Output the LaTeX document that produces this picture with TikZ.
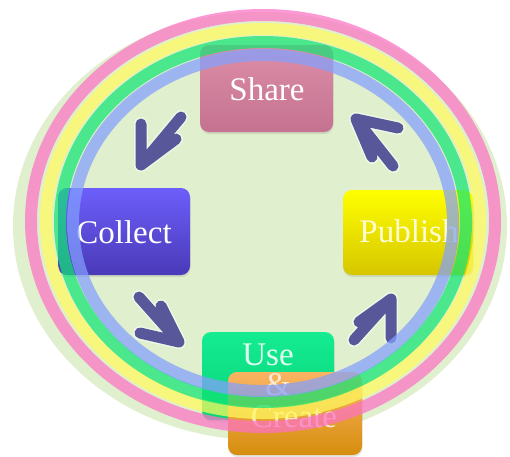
\documentclass[tikz,border=0pt]{standalone}
\usepackage{fontspec}
\setmainfont{Liberation Serif}
\usetikzlibrary{shadows}
\definecolor{bgc}{HTML}{E0EFCD}
\definecolor{ringpink}{HTML}{FD72C5}
\definecolor{ringyellow}{HTML}{FFFB5E}
\definecolor{ringgreen}{HTML}{11E575}
\definecolor{ringblue}{HTML}{83A0FE}
\definecolor{arrowc}{HTML}{57579A}
\begin{document}
\begin{tikzpicture}[x=1pt,y=-1pt,
  boxnode/.style={rectangle, rounded corners=9pt, inner sep=0pt, draw=none,
    drop shadow={opacity=0.2, shadow xshift=0.5pt, shadow yshift=-2pt}},
  lbl/.style={text=white, font=\fontsize{33}{33}\selectfont, anchor=base, inner sep=0pt},
  ring/.style={draw opacity=0.72, line width=12pt},
  halo/.style={draw=white, draw opacity=0.5, line width=14pt, line cap=round, line join=round},
  blockarrow/.style={draw=arrowc, line width=11pt, line cap=round, line join=round}]
\useasboundingbox (0,0) rectangle (510,456);
\fill[white] (0,0) rectangle (510,456);
% background disc
\fill[bgc] (260,226) ellipse [x radius=247pt, y radius=214pt];
% boxes
\node[boxnode, minimum width=133pt, minimum height=87pt,
  top color={rgb,255:red,222;green,142;blue,168}, bottom color={rgb,255:red,196;green,114;blue,144}] (share) at (266.5,88.5) {};
\node[boxnode, minimum width=132pt, minimum height=87pt,
  top color={rgb,255:red,108;green,94;blue,250}, bottom color={rgb,255:red,74;green,58;blue,184}] (collect) at (124,231.5) {};
\node[boxnode, minimum width=130pt, minimum height=85pt,
  top color={rgb,255:red,255;green,255;blue,0}, bottom color={rgb,255:red,214;green,198;blue,0}] (publish) at (408,232.5) {};
\node[boxnode, minimum width=132pt, minimum height=88pt,
  top color={rgb,255:red,20;green,236;blue,146}, bottom color={rgb,255:red,10;green,210;blue,120}] (use) at (268,376) {};
\node[boxnode, minimum width=134pt, minimum height=83pt,
  top color={rgb,255:red,250;green,180;blue,98}, bottom color={rgb,255:red,214;green,142;blue,14}] (create) at (295,413.5) {};
% texts
\node[lbl] (tshare) at (267,100) {Share};
\node[lbl] (tcollect) at (124,243) {Collect};
\node[lbl, text={rgb,255:red,255;green,252;blue,210}] (tpublish) at (409,242) {Publish};
\node[lbl, text={rgb,255:red,225;green,255;blue,240}] (tuse) at (268,365) {Use};
\node[lbl, text opacity=0.75] (tamp) at (278,395) {\&};
\node[lbl, text opacity=0.75] (tcreate) at (294,427) {Create};
% arrows
\coordinate (a1tip) at (141,165); \coordinate (a1tail) at (181,117);
\coordinate (a1l) at (141,124); \coordinate (a1r) at (176,139);
\coordinate (a2tip) at (179,342); \coordinate (a2tail) at (139,297);
\coordinate (a2l) at (140,333); \coordinate (a2r) at (161,306);
\coordinate (a3tip) at (391,299); \coordinate (a3tail) at (354,340);
\coordinate (a3l) at (359,322); \coordinate (a3r) at (391,338);
\coordinate (a4tip) at (356,119); \coordinate (a4tail) at (393,166);
\coordinate (a4l) at (398,128); \coordinate (a4r) at (372,157);
\foreach \a in {a1,a2,a3,a4}{
  \draw[halo] (\a l) -- (\a tip) -- (\a r) (\a tip) -- (\a tail);
}
\foreach \a in {a1,a2,a3,a4}{
  \draw[blockarrow] (\a l) -- (\a tip) -- (\a r) (\a tip) -- (\a tail);
}
% rings
\draw[ring, draw=ringpink] (263,221) ellipse [x radius=232pt, y radius=206pt];
\draw[ring, draw=ringyellow] (263,221) ellipse [x radius=217pt, y radius=192pt];
\draw[ring, draw=ringgreen] (263,222) ellipse [x radius=203pt, y radius=180pt];
\draw[ring, draw=ringblue] (263,223) ellipse [x radius=190pt, y radius=168pt];
\end{tikzpicture}
\end{document}
